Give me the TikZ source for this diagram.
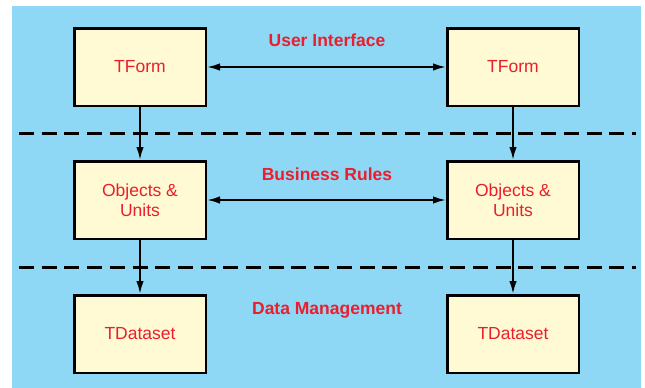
\documentclass[tikz,border=0pt]{standalone}
\usepackage{fontspec}
\setmainfont{Liberation Sans}
\usetikzlibrary{arrows.meta}
\definecolor{bgblue}{RGB}{142,216,246}
\definecolor{boxcream}{RGB}{255,250,212}
\definecolor{txtred}{RGB}{234,30,44}
\begin{document}
\begin{tikzpicture}[x=1pt,y=-1pt,
  box/.style={draw=black, line width=2.5pt, fill=boxcream, minimum width=131.5pt, minimum height=77.5pt, inner sep=0pt, font=\fontsize{17.5}{20}\selectfont, text=txtred, align=center},
  lbl/.style={font=\bfseries\fontsize{17.5}{20}\selectfont, text=txtred, anchor=base, inner sep=0pt},
  conn/.style={line width=2pt, -{Latex[length=13pt,width=7.5pt]}},
  dconn/.style={line width=2pt, {Latex[length=13pt,width=7.5pt]}-{Latex[length=13pt,width=7.5pt]}},
  sep/.style={line width=3pt, dash pattern=on 15pt off 7.7pt}]
\useasboundingbox (0,0) rectangle (645,388);
\fill[bgblue] (12,6) rectangle (641,388);
% separators
\coordinate (d1a) at (19,133);
\coordinate (d1b) at (636,133);
\coordinate (d2a) at (19,267);
\coordinate (d2b) at (636,267);
\draw[sep] (d1a) -- (d1b);
\draw[sep] (d2a) -- (d2b);
% boxes
\node[box] (uiL) at (140,67) {TForm};
\node[box] (uiR) at (513,67) {TForm};
\node[box] (brL) at (140,200) {Objects \&\\Units};
\node[box] (brR) at (513,200) {Objects \&\\Units};
\node[box] (dmL) at (140,334) {TDataset};
\node[box] (dmR) at (513,334) {TDataset};
% labels
\node[lbl] (ui) at (327,46.7) {User Interface};
\node[lbl] (br) at (327,180.7) {Business Rules};
\node[lbl] (dm) at (327,314.3) {Data Management};
% connectors
\draw[dconn] (uiL) -- (uiR);
\draw[dconn] (brL) -- (brR);
\draw[conn] (uiL) -- (brL);
\draw[conn] (uiR) -- (brR);
\draw[conn] (brL) -- (dmL);
\draw[conn] (brR) -- (dmR);
\end{tikzpicture}
\end{document}
